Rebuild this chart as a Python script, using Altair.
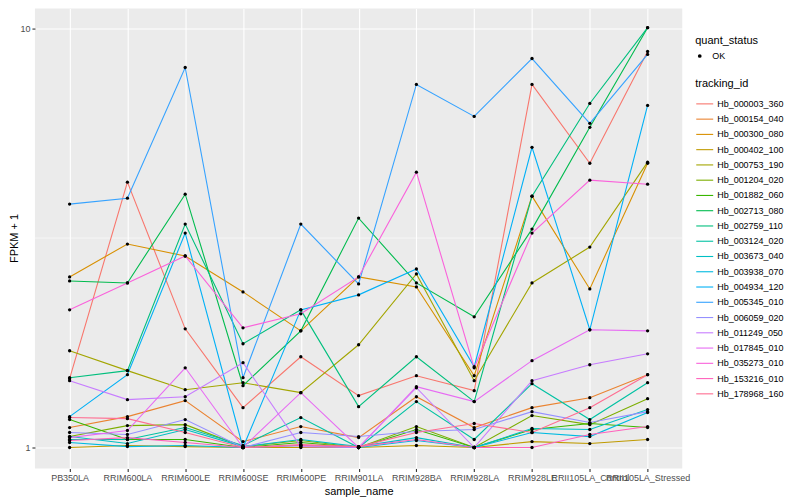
import altair as alt
import pandas as pd

samples = ["PB350LA", "RRIM600LA", "RRIM600LE", "RRIM600SE", "RRIM600PE", "RRIM901LA",
           "RRIM928BA", "RRIM928LA", "RRIM928LE", "RRII105LA_Control", "RRII105LA_Stressed"]

tracking_ids = ["Hb_000003_360", "Hb_000154_040", "Hb_000300_080", "Hb_000402_100",
                "Hb_000753_190", "Hb_001204_020", "Hb_001882_060", "Hb_002713_080",
                "Hb_002759_110", "Hb_003124_020", "Hb_003673_040", "Hb_003938_070",
                "Hb_004934_120", "Hb_005345_010", "Hb_006059_020", "Hb_011249_050",
                "Hb_017845_010", "Hb_035273_010", "Hb_153216_010", "Hb_178968_160"]

palette = ["#F8766D", "#EA8331", "#D89000", "#C09B00", "#A3A500", "#7CAE00", "#39B600",
           "#00BB4E", "#00BF7D", "#00C1A3", "#00BFC4", "#00BAE0", "#00B0F6", "#35A2FF",
           "#9590FF", "#C77CFF", "#E76BF3", "#FA62DB", "#FF62BC", "#FF6C91"]

# FPKM + 1 per sample (order of `samples`)
hb_000003_360 = [1.46, 4.30, 1.92, 1.245, 1.647, 1.33, 1.484, 1.367, 7.356, 4.771, 8.816]
hb_000154_040 = [1.116, 1.185, 1.294, 1.033, 1.122, 1.056, 1.322, 1.116, 1.245, 1.315, 1.492]
hb_000300_080 = [2.554, 3.06, 2.865, 2.352, 1.899, 2.554, 2.417, 1.484, 3.981, 2.391, 4.771]
hb_000402_100 = [1.0, 1.011, 1.005, 1.0, 1.0, 1.0, 1.011, 1.0, 1.033, 1.022, 1.045]
hb_000753_190 = [1.702, 1.526, 1.374, 1.428, 1.352, 1.759, 2.596, 1.444, 2.471, 3.01, 4.80]
hb_001204_020 = [1.062, 1.128, 1.134, 1.005, 1.039, 1.0, 1.122, 1.0, 1.192, 1.134, 1.308]
hb_001882_060 = [1.166, 1.045, 1.045, 1.0, 1.028, 1.0, 1.104, 1.0, 1.104, 1.141, 1.116]
hb_002713_080 = [2.498, 2.471, 4.025, 1.405, 1.899, 3.529, 2.471, 2.051, 3.322, 5.812, 10.05]
hb_002759_110 = [1.468, 1.526, 3.415, 1.769, 2.131, 1.252, 1.647, 1.287, 3.981, 6.627, 10.05]
hb_003124_020 = [1.045, 1.045, 1.116, 1.011, 1.179, 1.0, 1.287, 1.045, 1.420, 1.166, 1.428]
hb_003673_040 = [1.062, 1.022, 1.104, 1.005, 1.045, 1.005, 1.056, 1.0, 1.110, 1.104, 1.232]
hb_003938_070 = [1.028, 1.005, 1.011, 1.0, 1.011, 1.0, 1.039, 1.0, 1.086, 1.062, 1.212]
hb_004934_120 = [1.185, 1.492, 3.25, 1.0, 2.131, 2.314, 2.668, 1.559, 5.208, 1.91, 6.555]
hb_005345_010 = [3.811, 3.937, 8.075, 1.468, 3.415, 2.457, 7.356, 6.172, 8.483, 5.94, 8.676]
hb_006059_020 = [1.086, 1.074, 1.166, 1.0, 1.086, 1.062, 1.092, 1.104, 1.218, 1.147, 1.218]
hb_011249_050 = [1.444, 1.301, 1.322, 1.594, 1.005, 1.0, 1.389, 1.0, 1.444, 1.576, 1.674]
hb_017845_010 = [1.056, 1.098, 1.55, 1.0, 1.352, 1.0, 1.397, 1.287, 1.612, 1.91, 1.899]
hb_035273_010 = [2.131, 2.471, 2.865, 1.931, 2.085, 2.554, 4.541, 1.55, 3.25, 4.347, 4.252]
hb_153216_010 = [1.039, 1.056, 1.028, 1.0, 1.011, 1.005, 1.045, 1.0, 1.0, 1.074, 1.122]
hb_178968_160 = [1.179, 1.172, 1.086, 1.0, 1.017, 1.005, 1.086, 1.141, 1.086, 1.245, 1.492]

series = [hb_000003_360, hb_000154_040, hb_000300_080, hb_000402_100, hb_000753_190,
          hb_001204_020, hb_001882_060, hb_002713_080, hb_002759_110, hb_003124_020,
          hb_003673_040, hb_003938_070, hb_004934_120, hb_005345_010, hb_006059_020,
          hb_011249_050, hb_017845_010, hb_035273_010, hb_153216_010, hb_178968_160]

minor_breaks = [10 ** 0.5]

rows = []
for tid, vals in zip(tracking_ids, series):
    for s, v in zip(samples, vals):
        rows.append({"tracking_id": tid, "sample_name": s, "fpkm": v, "quant_status": "OK"})
df = pd.DataFrame(rows)

FONT = "Liberation Sans"

x_axis = alt.Axis(labelAngle=0, labelOverlap=False, labelBound=False, labelFlush=False,
                  grid=True, gridColor="white", gridWidth=1.1, domain=False,
                  tickColor="#333333", tickSize=3, tickWidth=1.1,
                  labelColor="#4D4D4D", labelFontSize=9, labelPadding=2,
                  titleFontSize=11, titleColor="black", titleFontWeight="normal",
                  titlePadding=3)
y_axis = alt.Axis(values=[1, 10], format="~g", grid=True, gridColor="white",
                  gridWidth=1.1, domain=False, tickColor="#333333", tickSize=3,
                  tickWidth=1.1, labelColor="#4D4D4D", labelFontSize=9,
                  labelPadding=2, titleFontSize=11, titleColor="black",
                  titleFontWeight="normal", titleX=-15, titleY=230)

x_scale = alt.Scale(type="point", padding=0.6)
y_scale = alt.Scale(type="log", domain=[0.8913, 11.16], nice=False, zero=False)

x_enc = alt.X("sample_name:N", sort=samples, title="sample_name", scale=x_scale, axis=x_axis)
y_enc = alt.Y("fpkm:Q", title="FPKM + 1", scale=y_scale, axis=y_axis)

base = alt.Chart(df)

minor = alt.Chart(pd.DataFrame({"fpkm": minor_breaks})).mark_rule(
    color="white", strokeWidth=0.55).encode(y=y_enc)

lines = base.mark_line(strokeWidth=1.1).encode(
    x=x_enc, y=y_enc,
    color=alt.Color("tracking_id:N", sort=tracking_ids,
                    scale=alt.Scale(domain=tracking_ids, range=palette),
                    legend=alt.Legend(title="tracking_id", orient="none", legendX=662,
                                      legendY=70, symbolType="stroke", symbolSize=289,
                                      symbolStrokeWidth=1.1, rowPadding=0.3,
                                      labelFontSize=9, labelColor="black", labelOffset=3,
                                      titleFontSize=11, titleFontWeight="normal",
                                      titleColor="black", titlePadding=5)),
    detail="tracking_id:N",
)

points = base.mark_point(filled=True, color="black", size=11, opacity=1).encode(
    x=x_enc, y=y_enc,
    shape=alt.Shape("quant_status:N", scale=alt.Scale(range=["circle"]),
                    legend=alt.Legend(title="quant_status", orient="none", legendX=662,
                                      legendY=26, symbolSize=14, symbolFillColor="black",
                                      symbolStrokeColor="black", labelFontSize=9,
                                      labelColor="black", labelOffset=8,
                                      titleFontSize=11, titleFontWeight="normal",
                                      titleColor="black", titlePadding=6)),
)

chart = alt.layer(minor, lines, points).properties(
    width=649, height=461,
    autosize=alt.AutoSizeParams(type="none"),
    padding={"left": 27, "top": 0, "right": 110, "bottom": 30},
).configure(
    font=FONT,
    view=alt.ViewConfig(fill="#EBEBEB", stroke=None),
)

chart.save("out.html", embed_options={"renderer": "svg", "actions": False})
